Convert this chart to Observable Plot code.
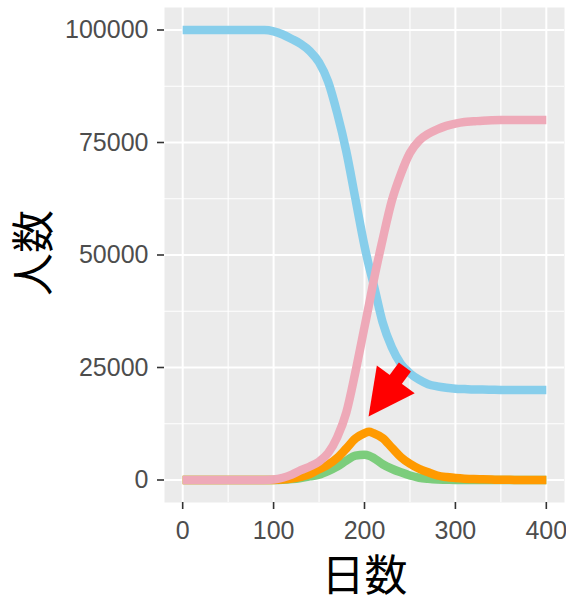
<!DOCTYPE html>
<html><head><meta charset="utf-8">
<script src="https://cdn.jsdelivr.net/npm/d3@7"></script>
<script src="https://cdn.jsdelivr.net/npm/@observablehq/plot@0.6"></script>
<style>body{margin:0;background:#fff}</style>
</head><body><div id="chart"></div>
<script>
// Day of the epidemic
const days = [0,10,20,30,40,50,60,70,80,90,100,110,120,130,140,150,160,170,180,190,200,205,
  210,220,230,240,250,260,270,280,290,300,310,320,330,340,350,360,370,380,390,400];
// Susceptible (sky blue)
const S = [100000,100000,100000,100000,100000,100000,100000,100000,100000,100000,99700,99000,98000,96900,95300,92800,88500,81500,73000,62500,52000,47500,
  43500,35000,29500,25800,23700,22300,21300,20800,20500,20300,20200,20100,20100,20050,20000,20000,20000,20000,20000,20000];
// Exposed (green)
const E = [0,0,0,0,0,0,0,0,0,0,0,50,200,450,800,1200,2000,3000,4300,5400,5600,5400,
  4900,3500,2500,1700,1000,500,250,100,50,0,0,0,0,0,0,0,0,0,0,0];
// Infectious (orange)
const I = [0,0,0,0,0,0,0,0,0,0,0,100,300,700,1300,2400,3400,4900,7000,9200,10400,10700,
  10400,9300,7200,5100,3600,2500,1700,1000,650,450,300,200,150,100,50,50,0,0,0,0];
// Recovered (pink)
const R = [0,0,0,0,0,0,0,0,0,0,100,500,1200,2200,3000,4100,6000,9500,15000,24000,34000,39000,
  44200,53500,62000,68000,72700,75400,76900,77900,78700,79200,79550,79700,79850,79950,80000,80000,80000,80000,80000,80000];

const xTicks = [0,100,200,300,400];
const xMinor = [50,150,250,350];
const yTicks = [0,25000,50000,75000,100000];
const yMinor = [12500,37500,62500,87500];
const xTitle = "日数";
const yTitle = "人数";
// annotation arrow (data units): from -> to
const arrowFrom = {day: 245, value: 25000};
const arrowTo = {day: 205, value: 14000};

const series = [
  {key: "S", values: S, color: "#87CEEB"},
  {key: "E", values: E, color: "#7CCD7C"},
  {key: "I", values: I, color: "#FF9A00"},
  {key: "R", values: R, color: "#EEA9B8"}
];

const lineMarks = series.map(s =>
  Plot.line(days.map((d, i) => ({day: d, value: s.values[i]})), {
    x: "day", y: "value", stroke: s.color, strokeWidth: 8.5, curve: "monotone-x", strokeLinecap: "butt"
  })
);

const cjk = "'Noto Sans CJK JP', 'Noto Sans CJK SC', sans-serif";

const plot = Plot.plot({
  width: 566,
  height: 600,
  marginLeft: 164,
  marginRight: 2,
  marginTop: 7,
  marginBottom: 98,
  style: {fontFamily: "'Liberation Sans', Arial, sans-serif", background: "white", overflow: "visible"},
  x: {domain: [-20, 420]},
  y: {domain: [-5000, 105000]},
  marks: [
    Plot.frame({fill: "#EBEBEB", stroke: null}),
    Plot.ruleX(xMinor, {stroke: "white", strokeWidth: 1.1}),
    Plot.ruleY(yMinor, {stroke: "white", strokeWidth: 1.1}),
    Plot.ruleX(xTicks, {stroke: "white", strokeWidth: 2}),
    Plot.ruleY(yTicks, {stroke: "white", strokeWidth: 2}),
    ...lineMarks,
    Plot.axisX({ticks: xTicks, tickSize: 7, tickPadding: 12, fontSize: 25, fill: "#4D4D4D", stroke: "#333333", strokeWidth: 1.6, label: null}),
    Plot.axisY({ticks: yTicks, tickSize: 7, tickPadding: 9, fontSize: 25, fill: "#4D4D4D", stroke: "#333333", strokeWidth: 1.6, label: null, tickFormat: d3.format("d")}),
    Plot.text([xTitle], {frameAnchor: "bottom", textAnchor: "middle", lineAnchor: "middle", dy: 75, fontSize: 43, fill: "black", fontFamily: cjk}),
    Plot.text([yTitle], {frameAnchor: "left", textAnchor: "middle", lineAnchor: "middle", dx: -129, dy: -2, rotate: -90, fontSize: 43, fill: "black", fontFamily: cjk})
  ]
});

// Draw the filled annotation arrow using the plot's own scales
const xs = plot.scale("x"), ys = plot.scale("y");
const x0 = xs.apply(arrowFrom.day), y0 = ys.apply(arrowFrom.value);
const x1 = xs.apply(arrowTo.day), y1 = ys.apply(arrowTo.value);
const len = Math.hypot(x1 - x0, y1 - y0);
const ux = (x1 - x0) / len, uy = (y1 - y0) / len;
const nx = -uy, ny = ux;
const headLen = 46, headHalf = 23.5, shaftW = 15;
const bx = x1 - ux * headLen, by = y1 - uy * headLen;
const g = d3.select(plot).append("g");
g.append("path")
  .attr("d", `M${x0 + nx*shaftW/2},${y0 + ny*shaftW/2}L${bx + ux*2 + nx*shaftW/2},${by + uy*2 + ny*shaftW/2}L${bx + ux*2 - nx*shaftW/2},${by + uy*2 - ny*shaftW/2}L${x0 - nx*shaftW/2},${y0 - ny*shaftW/2}Z`)
  .attr("fill", "#FF0000");
g.append("path")
  .attr("d", `M${x1},${y1}L${bx + nx*headHalf},${by + ny*headHalf}L${bx - nx*headHalf},${by - ny*headHalf}Z`)
  .attr("fill", "#FF0000");

document.getElementById("chart").appendChild(plot);
</script>
</body></html>
